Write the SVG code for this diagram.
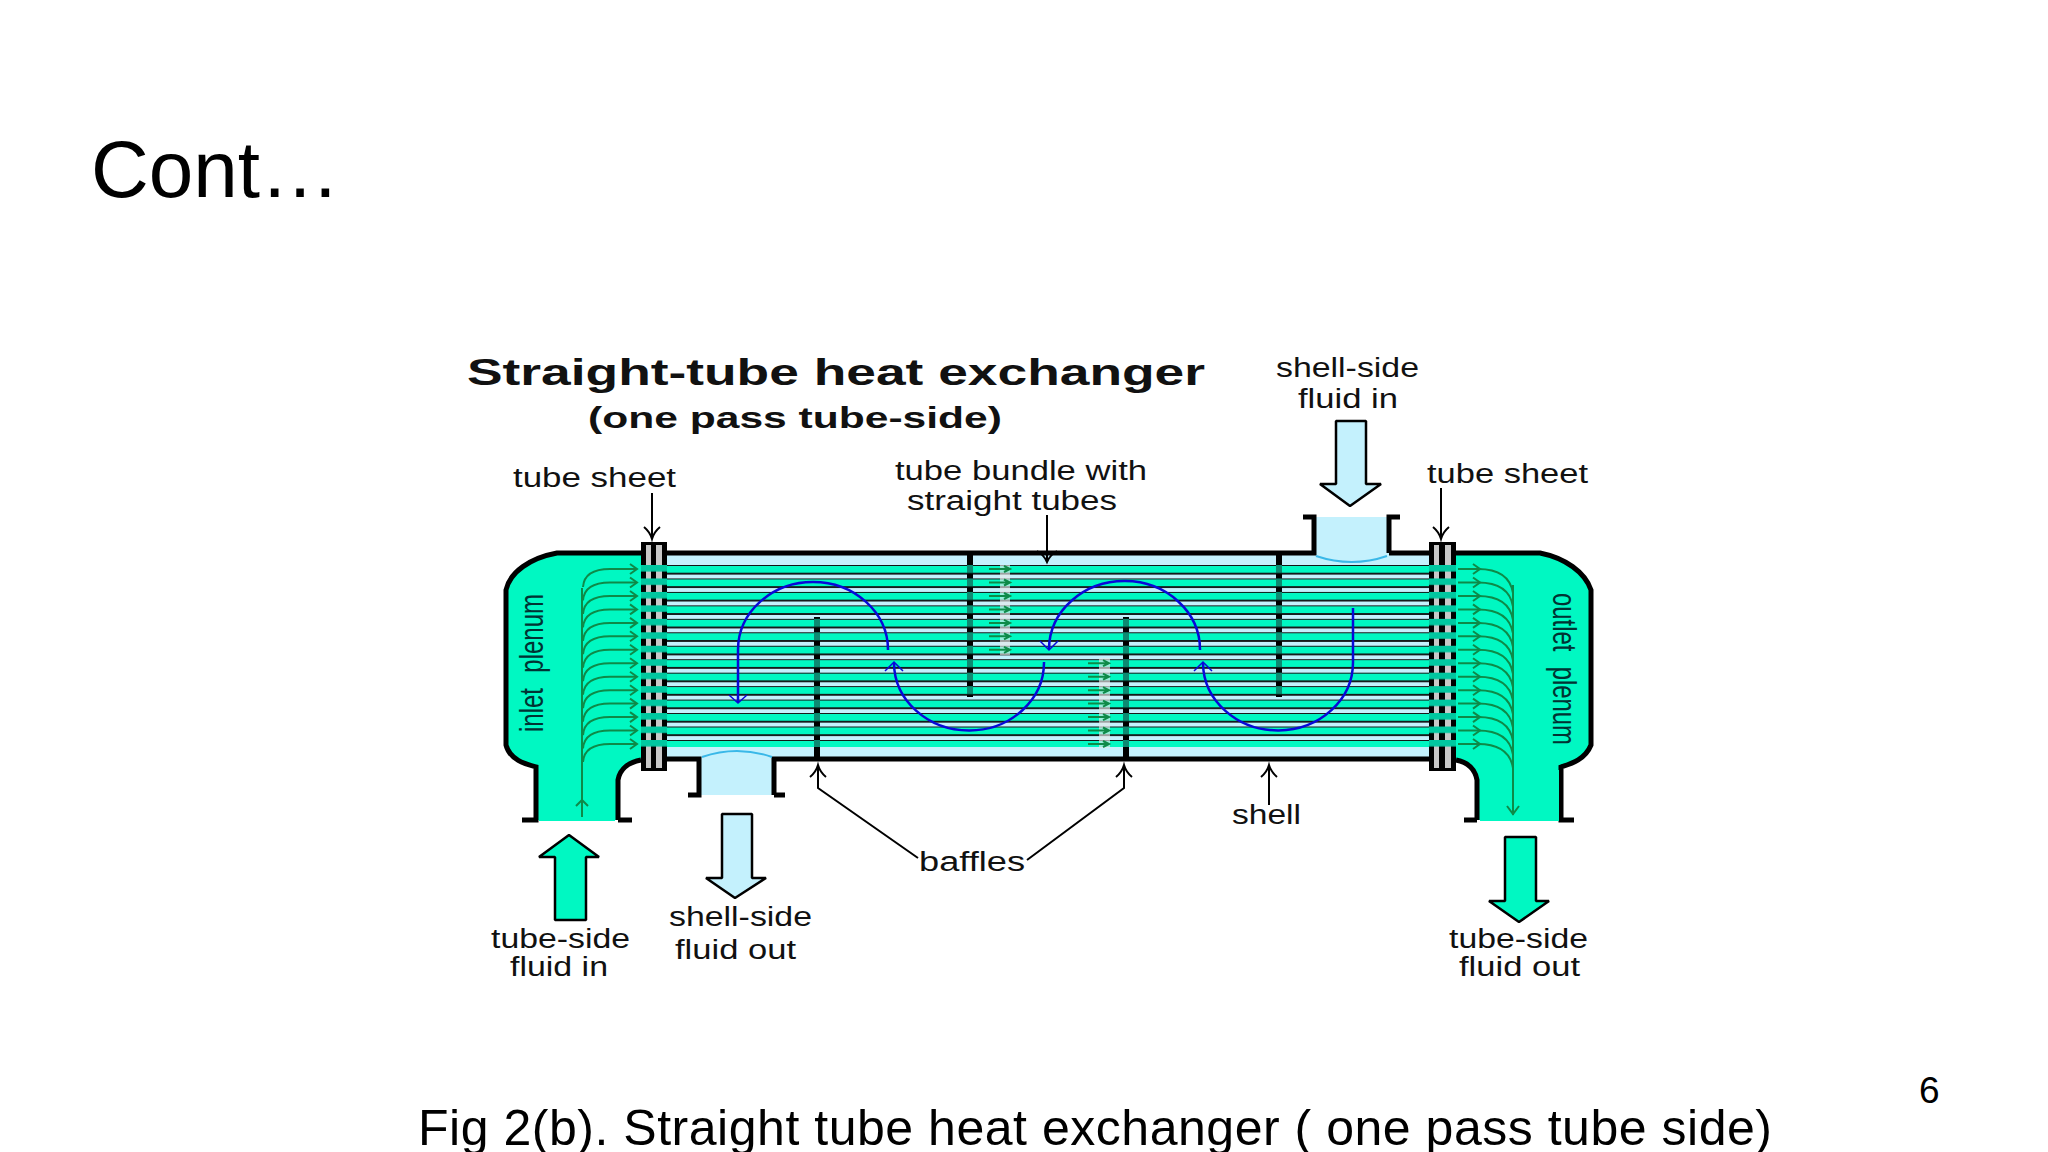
<svg xmlns="http://www.w3.org/2000/svg" width="2048" height="1152" viewBox="0 0 2048 1152">
<style>
.slide{font-family:"Liberation Sans",Arial,sans-serif;fill:#000}
.lab{font-family:"Liberation Sans",Arial,sans-serif;font-size:27px;fill:#111}
.rot{font-family:"Liberation Sans",Arial,sans-serif;font-size:33px;fill:#033;word-spacing:12px}
.ttl{font-family:"Liberation Sans",Arial,sans-serif;font-weight:bold;fill:#111}
.wall{fill:none;stroke:#000;stroke-width:5}
.lead{fill:none;stroke:#000;stroke-width:2}
.big{stroke:#000;stroke-width:2.5;stroke-linejoin:bevel}
.g{fill:#00f8c2}.b{fill:#c4f1fd}
.flow{fill:none;stroke:#0e8a48;stroke-width:2}
.blue{fill:none;stroke:#0808d8;stroke-width:2.5}
.bar{fill:none;stroke:#0808d8;stroke-width:1.5}
</style>
<defs>
<pattern id="tubes" patternUnits="userSpaceOnUse" x="0" y="565" width="10" height="13.46">
<rect width="10" height="13.46" fill="#c4f1fd"/>
<rect width="10" height="1" fill="#111"/>
<rect y="1" width="10" height="6.8" fill="#00f8c2"/>
<rect y="7.8" width="10" height="1.7" fill="#000"/>
</pattern>
<pattern id="bands" patternUnits="userSpaceOnUse" x="0" y="565" width="10" height="13.46">
<rect y="0" width="10" height="8" fill="#0d8a72"/>
</pattern>
<pattern id="sheetbands" patternUnits="userSpaceOnUse" x="0" y="565" width="10" height="13.46">
<rect y="0" width="10" height="6.5" fill="#00c8a0"/>
</pattern>
<g id="fl"><path class="flow" d="M583 18C584 4 596 0 610 0H636"/><path class="flow" d="M630 -5L637 0L630 5" stroke-width="1.5"/></g>
<g id="fr"><path class="flow" d="M1458 0H1478C1496 0 1510 6 1513 24"/><path class="flow" d="M1473 -5L1480 0L1473 5" stroke-width="1.5"/></g>
<g id="sa"><path class="flow" d="M0 0H21M15 -3L21 0L15 3"/></g>
</defs>
<rect width="2048" height="1152" fill="#fff"/>
<text class="slide" x="91" y="197" font-size="80">Cont…</text>
<text class="slide" x="418" y="1145" font-size="50" textLength="1354">Fig 2(b). Straight tube heat exchanger ( one pass tube side)</text>
<text class="slide" x="1919" y="1103" font-size="37">6</text>
<g id="title">
<text class="ttl" x="467" y="385" font-size="36" textLength="738" lengthAdjust="spacingAndGlyphs">Straight-tube heat exchanger</text>
<text class="ttl" x="588" y="428" font-size="29" textLength="414" lengthAdjust="spacingAndGlyphs">(one pass tube-side)</text>
</g>
<g id="shell">
<rect class="b" x="660" y="553" width="775" height="206"/>
<rect x="660" y="565" width="775" height="182" fill="url(#tubes)"/>
<rect class="b" x="701" y="755" width="71" height="40"/>
<rect class="b" x="1316" y="517" width="71" height="42"/>
<path class="wall" d="M660 553H1314V517H1303M1389 553H1435M1389 553V517H1400" stroke-width="4"/>
<path class="wall" d="M660 759H699V795H688M774 795H785M774 795V759H1435" stroke-width="4"/>
<path fill="none" stroke="#3ab8e8" stroke-width="2" d="M702 757Q737 745 772 757M1316 556Q1352 568 1387 556"/>
</g>
<g id="baffles">
<rect x="814" y="617" width="6" height="142" fill="#000"/><rect x="814" y="617" width="6" height="130" fill="url(#bands)"/>
<rect x="967" y="553" width="6" height="144" fill="#000"/><rect x="967" y="565" width="6" height="132" fill="url(#bands)"/>
<rect x="1123" y="617" width="6" height="142" fill="#000"/><rect x="1123" y="617" width="6" height="130" fill="url(#bands)"/>
<rect x="1276" y="553" width="6" height="144" fill="#000"/><rect x="1276" y="565" width="6" height="132" fill="url(#bands)"/>
</g>
<g id="inlet-plenum">
<path class="g" d="M641 553H557C530 558 510 572 506 590V745C510 760 525 764 536 767V820H618V780C620 768 630 762 641 760Z"/>
<path class="wall" d="M641 553H557C530 558 510 572 506 590V745C510 760 525 764 536 767V820H522M618 820H632M618 820V780C620 768 630 762 641 760"/>
<path class="g" d="M539 770H615V821H539Z"/>
<text class="rot" transform="translate(543 732) rotate(-90)" textLength="138" lengthAdjust="spacingAndGlyphs">inlet plenum</text>
</g>
<g id="outlet-plenum">
<path class="g" d="M1456 553H1540C1565 558 1585 572 1591 590V745C1585 760 1570 764 1561 767V820H1477V780C1475 768 1466 762 1456 760Z"/>
<path class="wall" d="M1456 553H1540C1565 558 1585 572 1591 590V745C1585 760 1570 764 1561 767V820H1574M1477 820H1464M1477 820V780C1475 768 1466 762 1456 760"/>
<path class="g" d="M1480 770H1559V821H1480Z"/>
<text class="rot" transform="translate(1553 593) rotate(90)" textLength="152" lengthAdjust="spacingAndGlyphs">outlet plenum</text>
</g>
<g id="tube-sheet-left">
<rect x="641" y="542" width="26" height="229" fill="#000"/>
<rect x="646" y="545" width="5" height="223" fill="#c8c8c8"/><rect x="656" y="545" width="6" height="223" fill="#c8c8c8"/>
<rect x="641" y="565" width="26" height="182" fill="url(#sheetbands)"/>
</g>
<g id="tube-sheet-right">
<rect x="1429" y="542" width="27" height="229" fill="#000"/>
<rect x="1434" y="545" width="5" height="223" fill="#c8c8c8"/><rect x="1445" y="545" width="6" height="223" fill="#c8c8c8"/>
<rect x="1429" y="565" width="27" height="182" fill="url(#sheetbands)"/>
</g>
<g id="connectors">
<path class="flow" d="M582 817V588M576 806L582 800L588 806"/>
<path class="flow" d="M1513 585V815M1507 806L1513 814L1519 806"/>
<use href="#fl" y="569"/><use href="#fl" y="582.5"/><use href="#fl" y="596"/><use href="#fl" y="609.4"/><use href="#fl" y="622.9"/><use href="#fl" y="636.3"/><use href="#fl" y="649.8"/><use href="#fl" y="663.2"/><use href="#fl" y="676.7"/><use href="#fl" y="690.2"/><use href="#fl" y="703.6"/><use href="#fl" y="717.1"/><use href="#fl" y="730.5"/><use href="#fl" y="744"/>
<use href="#fr" y="569"/><use href="#fr" y="582.5"/><use href="#fr" y="596"/><use href="#fr" y="609.4"/><use href="#fr" y="622.9"/><use href="#fr" y="636.3"/><use href="#fr" y="649.8"/><use href="#fr" y="663.2"/><use href="#fr" y="676.7"/><use href="#fr" y="690.2"/><use href="#fr" y="703.6"/><use href="#fr" y="717.1"/><use href="#fr" y="730.5"/><use href="#fr" y="744"/>
<rect x="1000" y="565" width="10" height="90" fill="#e8e8e8" opacity=".65"/>
<rect x="1099" y="658" width="11" height="90" fill="#e8e8e8" opacity=".65"/>
<use href="#sa" x="989" y="569"/><use href="#sa" x="989" y="582.5"/><use href="#sa" x="989" y="596"/><use href="#sa" x="989" y="609.4"/><use href="#sa" x="989" y="622.9"/><use href="#sa" x="989" y="636.3"/><use href="#sa" x="989" y="649.8"/>
<use href="#sa" x="1088" y="663.2"/><use href="#sa" x="1088" y="676.7"/><use href="#sa" x="1088" y="690.2"/><use href="#sa" x="1088" y="703.6"/><use href="#sa" x="1088" y="717.1"/><use href="#sa" x="1088" y="730.5"/><use href="#sa" x="1088" y="744"/>
<path class="blue" d="M738 702V650A75 68 0 0 1 888 650"/><path class="bar" d="M729 695L738 703L747 695"/>
<path class="blue" d="M894 663A75 68 0 0 0 1044 662"/><path class="bar" d="M885 671L894 662L903 671"/>
<path class="blue" d="M1049 649A75 68 0 0 1 1200 650"/><path class="bar" d="M1040 641L1049 650L1058 641"/>
<path class="blue" d="M1203 663A75 68 0 0 0 1353 662V608"/><path class="bar" d="M1194 671L1203 662L1212 671"/>
<path class="lead" d="M652 493V537M644 527Q650 532 652 539Q654 532 660 527"/>
<path class="lead" d="M1441 488V537M1433 527Q1439 532 1441 539Q1443 532 1449 527"/>
<path class="lead" d="M1047 515V560M1037 551Q1044 555 1047 562Q1050 555 1057 551"/>
<path class="lead" d="M818 767V788L918 858M810 777Q816 772 818 765Q820 772 826 777"/>
<path class="lead" d="M1124 767V788L1027 860M1116 777Q1122 772 1124 765Q1126 772 1132 777"/>
<path class="lead" d="M1269 767V805M1261 777Q1267 772 1269 765Q1271 772 1277 777"/>
</g>
<g id="arrow-tube-in"><path class="g big" d="M569 835L539 857H555V920H586V857H599Z"/></g>
<g id="arrow-shell-out"><path class="b big" d="M722 814H752V878H766L735 898L706 878H722Z"/></g>
<g id="arrow-shell-in"><path class="b big" d="M1336 421H1366V484H1381L1350 506L1320 484H1336Z"/></g>
<g id="arrow-tube-out"><path class="g big" d="M1505 837H1536V901H1549L1519 922L1489 901H1505Z"/></g>
<g id="labels">
<text class="lab" x="513" y="487" textLength="163" lengthAdjust="spacingAndGlyphs">tube sheet</text>
<text class="lab" x="1427" y="483" textLength="161" lengthAdjust="spacingAndGlyphs">tube sheet</text>
<text class="lab" x="895" y="480" textLength="252" lengthAdjust="spacingAndGlyphs">tube bundle with</text>
<text class="lab" x="907" y="510" textLength="210" lengthAdjust="spacingAndGlyphs">straight tubes</text>
<text class="lab" x="1276" y="377" textLength="143" lengthAdjust="spacingAndGlyphs">shell-side</text>
<text class="lab" x="1298" y="408" textLength="100" lengthAdjust="spacingAndGlyphs">fluid in</text>
<text class="lab" x="491" y="948" textLength="139" lengthAdjust="spacingAndGlyphs">tube-side</text>
<text class="lab" x="510" y="976" textLength="98" lengthAdjust="spacingAndGlyphs">fluid in</text>
<text class="lab" x="669" y="926" textLength="143" lengthAdjust="spacingAndGlyphs">shell-side</text>
<text class="lab" x="675" y="959" textLength="121" lengthAdjust="spacingAndGlyphs">fluid out</text>
<text class="lab" x="1449" y="948" textLength="139" lengthAdjust="spacingAndGlyphs">tube-side</text>
<text class="lab" x="1459" y="976" textLength="121" lengthAdjust="spacingAndGlyphs">fluid out</text>
<text class="lab" x="1232" y="824" textLength="69" lengthAdjust="spacingAndGlyphs">shell</text>
<text class="lab" x="919" y="871" textLength="106" lengthAdjust="spacingAndGlyphs">baffles</text>
</g>
</svg>
